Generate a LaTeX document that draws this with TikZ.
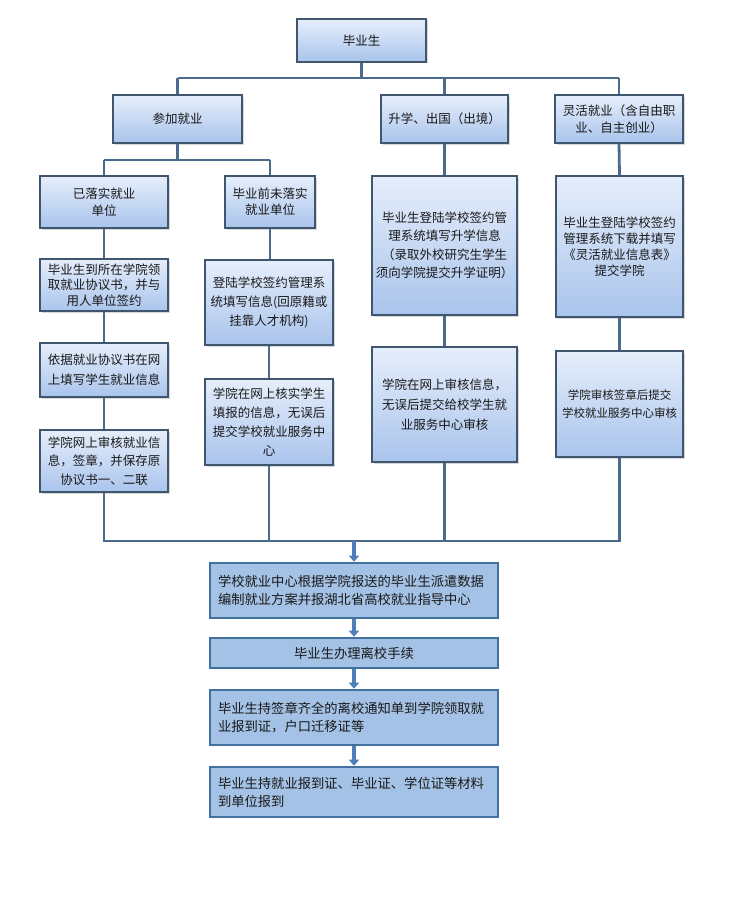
\documentclass[tikz,border=0pt]{standalone}
\usepackage{fontspec}
\setmainfont{Noto Sans CJK SC}
\usetikzlibrary{shadows,arrows.meta}
\definecolor{lnc}{HTML}{4A6B8C}
\definecolor{bdc}{HTML}{40566F}
\definecolor{tpc}{HTML}{E6EEFB}
\definecolor{btc}{HTML}{A9C4EC}
\definecolor{cfill}{HTML}{A4C2E5}
\definecolor{cbd}{HTML}{41719C}
\definecolor{arc}{HTML}{4E7FB8}
\begin{document}
\begin{tikzpicture}[x=1pt,y=-1pt,
  ubox/.style={draw=bdc, line width=1.1pt, top color=tpc, bottom color=btc,
    drop shadow={shadow xshift=1.5pt, shadow yshift=-1.5pt, opacity=0.3},
    align=center, inner sep=1pt, text=black!90, font=\fontsize{12.5}{15}\selectfont},
  ls/.style={font=\fontsize{12.5}{#1}\selectfont},
  cbox/.style={draw=cbd, line width=2.6pt, fill=cfill, inner xsep=8pt, inner ysep=2pt,
    text width=272pt, minimum width=288pt, align=left, text=black!90,
    font=\fontsize{13.3}{18}\selectfont},
  conn/.style={draw=lnc, line width=2.8pt},
  carr/.style={draw=arc, line width=4pt, -{Triangle[width=10pt,length=6pt]}}
]
\fill[white] (0,0) rectangle (732,899);
\useasboundingbox (0,0) rectangle (732,899);

% level 1
\node[ubox, minimum width=129pt, minimum height=43pt] (top) at (361.5,40.5) {毕业生};
% level 2
\node[ubox, minimum width=129pt, minimum height=48pt] (jy) at (177.5,119) {参加就业};
\node[ubox, minimum width=127pt, minimum height=48pt] (sx) at (444.5,119) {升学、出国（出境）};
\node[ubox, minimum width=128pt, minimum height=48pt, ls=17] (lh) at (619,119) {灵活就业（含自由职\\业、自主创业）};
% level 3
\node[ubox, minimum width=128pt, minimum height=52pt, ls=17] (yl) at (104,202) {已落实就业\\单位};
\node[ubox, minimum width=90pt, minimum height=52pt, ls=16] (wl) at (270,202) {毕业前未落实\\就业单位};
\node[ubox, minimum width=145pt, minimum height=139pt, ls=18.5] (sx2) at (444.5,245.5) {毕业生登陆学校签约管\\理系统填写升学信息\\（录取外校研究生学生\\须向学院提交升学证明）};
\node[ubox, minimum width=127pt, minimum height=141pt, ls=16] (lh2) at (619.5,246.5) {毕业生登陆学校签约\\管理系统下载并填写\\《灵活就业信息表》\\提交学院};
% left column
\node[ubox, minimum width=128pt, minimum height=52pt, ls=15.5] (a1) at (104,285) {毕业生到所在学院领\\取就业协议书，并与\\用人单位签约};
\node[ubox, minimum width=128pt, minimum height=54pt, ls=20] (a2) at (104,370) {依据就业协议书在网\\上填写学生就业信息};
\node[ubox, minimum width=128pt, minimum height=62pt, ls=18.5] (a3) at (104,461) {学院网上审核就业信\\息，签章，并保存原\\协议书一、二联};
% middle column
\node[ubox, minimum width=128pt, minimum height=85pt, ls=19] (b1) at (269,302.5) {登陆学校签约管理系\\统填写信息(回原籍或\\挂靠人才机构)};
\node[ubox, minimum width=128pt, minimum height=86pt, ls=19] (b2) at (269,422) {学院在网上核实学生\\填报的信息，无误后\\提交学校就业服务中\\心};
% right columns
\node[ubox, minimum width=145pt, minimum height=115pt, ls=20] (c3) at (444.5,404.5) {学院在网上审核信息，\\无误后提交给校学生就\\业服务中心审核};
\node[ubox, minimum width=127pt, minimum height=106pt, font=\fontsize{11.5}{18}\selectfont] (d3) at (619.5,404) {学院审核签章后提交\\学校就业服务中心审核};
% central chain
\node[cbox, minimum height=55pt] (m1) at (354,590.5) {学校就业中心根据学院报送的毕业生派遣数据\\编制就业方案并报湖北省高校就业指导中心};
\node[cbox, minimum height=30pt, align=center] (m2) at (354,653) {毕业生办理离校手续};
\node[cbox, minimum height=55pt] (m3) at (354,717.5) {毕业生持签章齐全的离校通知单到学院领取就\\业报到证，户口迁移证等};
\node[cbox, minimum height=50pt] (m4) at (354,792) {毕业生持就业报到证、毕业证、学位证等材料\\到单位报到};

% connectors
\coordinate (t0) at (361.5,78);
\coordinate (tl) at (177.5,78);
\coordinate (tr) at (619,78);
\draw[conn] (top.south) -- (t0);
\draw[conn] (tl) -- (tr);
\draw[conn] (tl) -- (jy.north);
\draw[conn] (sx.north |- t0) -- (sx.north);
\draw[conn] (tr) -- (lh.north);

\coordinate (j0) at (177.5,160);
\coordinate (jl) at (104,160);
\coordinate (jr) at (270,160);
\draw[conn] (jy.south) -- (j0);
\draw[conn] (jl) -- (jr);
\draw[conn] (jl) -- (yl.north);
\draw[conn] (jr) -- (wl.north);

\draw[conn] (yl.south) -- (a1.north);
\draw[conn] (a1.south) -- (a2.north);
\draw[conn] (a2.south) -- (a3.north);
\draw[conn] (wl.south) -- (wl.south |- b1.north);
\draw[conn] (b1.south) -- (b2.north);
\draw[conn] (sx.south) -- (sx2.north);
\draw[conn] (sx2.south) -- (c3.north);
\draw[conn] (lh.south) -- (lh2.north);
\draw[conn] (lh2.south) -- (d3.north);

\coordinate (ba) at (104,541);
\coordinate (bb) at (269,541);
\coordinate (bc) at (444.5,541);
\coordinate (bd) at (619.5,541);
\coordinate (bm) at (354,541);
\draw[conn] (a3.south) -- (ba);
\draw[conn] (b2.south) -- (bb);
\draw[conn] (c3.south) -- (bc);
\draw[conn] (d3.south) -- (bd);
\draw[conn] ([xshift=-1.4pt]ba) -- ([xshift=1.4pt]bd);

\draw[carr] (bm) -- (m1.north);
\draw[carr] (m1.south) -- (m2.north);
\draw[carr] (m2.south) -- (m3.north);
\draw[carr] (m3.south) -- (m4.north);
\end{tikzpicture}
\end{document}
